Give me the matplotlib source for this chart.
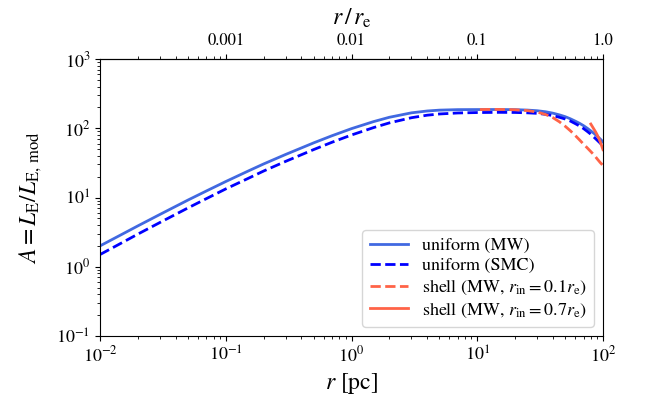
import matplotlib
matplotlib.use("Agg")
from matplotlib import pyplot as plt
from matplotlib.ticker import FixedLocator, FixedFormatter, LogLocator, NullFormatter

plt.rcParams['font.family'] = ['STIXGeneral', 'DejaVu Serif']
plt.rcParams['mathtext.fontset'] = 'stix'

r_e = 100.0  # pc

# uniform (MW) / uniform (SMC)
r_uni = [0.01, 0.015, 0.02, 0.03, 0.05, 0.07, 0.1, 0.15, 0.2, 0.3, 0.5, 0.7, 1, 1.5, 2, 3, 4, 5, 7,
         10, 15, 20, 25, 30, 35, 40, 45, 50, 55, 60, 65, 70, 75, 80, 85, 90, 95, 100]
A_mw = [2.0, 2.95, 3.89, 5.70, 9.17, 12.4, 17.0, 24.0, 30.5, 41.9, 61.5, 78, 98.7, 124.8, 144, 167, 177.5, 182.6, 185.7,
        186.2, 186.5, 185.5, 183, 179, 173, 165, 156, 147, 137, 127, 118, 109, 100, 91.5, 84, 76.7, 70, 63.5]
A_smc = [1.50, 2.23, 2.96, 4.36, 7.06, 9.61, 13.3, 18.8, 24.1, 33.3, 49.2, 62.8, 79.9, 102.3, 119.5, 142, 154.4, 160.7, 166.2,
         168.5, 169.7, 169, 167, 164, 159, 152, 144, 136, 127, 117, 108, 99, 90, 82, 74, 67, 61, 55]
# shell r_in = 0.1 r_e
r_sh1 = [10.5, 12, 15, 20, 25, 30, 35, 40, 45, 50, 55, 60, 65, 70, 75, 80, 85, 90, 95, 100]
A_sh1 = [186, 187, 187, 185, 180, 171, 158, 142, 124, 107, 92, 79, 68, 59, 52, 46, 41, 36, 32, 29]
# shell r_in = 0.7 r_e
r_sh2 = [80, 82.5, 85, 87.5, 90, 92.5, 95, 97.5, 100]
A_sh2 = [115, 105, 96, 88, 80, 72, 64, 56, 49]

fig = plt.figure(figsize=(6.45, 4.07), dpi=100)
ax = fig.add_axes([100 / 645, 1 - 336 / 407, 503 / 645, 277 / 407])

ax.plot(r_uni, A_mw, color='royalblue', lw=2, label='uniform (MW)')
ax.plot(r_uni, A_smc, color='blue', lw=2, ls='--', label='uniform (SMC)')
ax.plot(r_sh1, A_sh1, color='tomato', lw=2, ls='--', label=r'shell (MW, $r_{\rm in} = 0.1 r_{\rm e}$)')
ax.plot(r_sh2, A_sh2, color='tomato', lw=2, label=r'shell (MW, $r_{\rm in} = 0.7 r_{\rm e}$)')

ax.set_xscale('log')
ax.set_yscale('log')
ax.set_xlim(1e-2, 1e2)
ax.set_ylim(1e-1, 1e3)
ax.tick_params(labelsize=13)
ax.set_xlabel(r'$r$ [pc]', fontsize=17)
ax.set_ylabel(r'$A = L_{\rm E}/L_{\rm E,\,mod}$', fontsize=17, labelpad=9)

top = ax.secondary_xaxis('top', functions=(lambda x: x / r_e, lambda x: x * r_e))
top.xaxis.set_major_locator(FixedLocator([1e-3, 1e-2, 1e-1, 1.0]))
top.xaxis.set_major_formatter(FixedFormatter(['0.001', '0.01', '0.1', '1.0']))
top.xaxis.set_minor_locator(LogLocator(subs=range(2, 10)))
top.xaxis.set_minor_formatter(NullFormatter())
top.tick_params(labelsize=12)
top.set_xlabel(r'$r\,/\,r_{\rm e}$', fontsize=17, labelpad=6)

ax.legend(loc='lower right', fontsize=13, labelspacing=0.2, handlelength=2.1)

plt.savefig('out.png', dpi=100)
